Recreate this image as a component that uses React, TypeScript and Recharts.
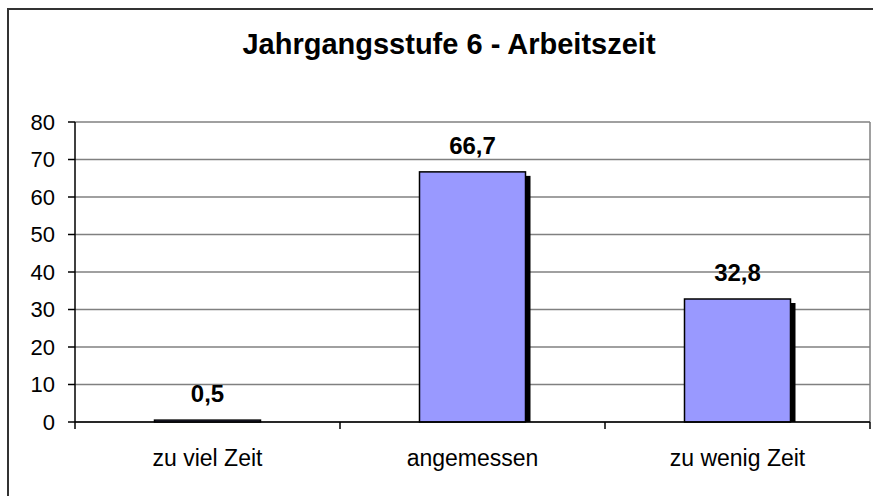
import { Bar, BarChart, CartesianGrid, LabelList, ReferenceLine, XAxis, YAxis } from 'recharts'

const categories = ['zu viel Zeit', 'angemessen', 'zu wenig Zeit']
const values = [0.5, 66.7, 32.8]
const yTicks = [0, 10, 20, 30, 40, 50, 60, 70, 80]
const edgeTicks = [0, 1, 2, 3]

// slot = position of each category on a 0..3 scale, used only for the boundary tick axis
const data = categories.map((name, i) => ({ name, value: values[i], slot: i + 0.5 }))

const font = '"Liberation Sans", Arial, sans-serif'

function ShadowBar(props: any) {
  const { x, y, width, height } = props
  const sh = Math.max(0, height - 4)
  return (
    <g>
      <rect x={x + 5} y={y + 4} width={width} height={sh} fill="#000" />
      <rect x={x} y={y} width={width} height={height} fill="#9999ff" stroke="#000" strokeWidth={1.5} />
    </g>
  )
}

export default function App() {
  return (
    <div
      style={{
        position: 'fixed',
        left: 0,
        top: 0,
        width: 873,
        height: 496,
        overflow: 'hidden',
        background: '#fff',
        fontFamily: font,
      }}
    >
      <div
        style={{
          position: 'absolute',
          left: 7,
          top: 8,
          width: 900,
          height: 520,
          borderTop: '2px solid #333',
          borderLeft: '2px solid #333',
        }}
      />
      <div
        style={{
          position: 'absolute',
          left: 0,
          top: 30,
          width: 898,
          textAlign: 'center',
          fontSize: 29,
          lineHeight: '29px',
          fontWeight: 'bold',
          color: '#000',
        }}
      >
        Jahrgangsstufe 6 - Arbeitszeit
      </div>
      <div style={{ position: 'absolute', left: 0, top: 0 }}>
        <BarChart
          width={873}
          height={496}
          data={data}
          margin={{ top: 122, right: 3, left: 15, bottom: 33 }}
          barCategoryGap="30%"
        >
          <CartesianGrid vertical={false} stroke="#808080" strokeWidth={1.5} />
          <XAxis
            xAxisId={0}
            type="number"
            dataKey="slot"
            domain={[0, 3]}
            ticks={edgeTicks}
            allowDataOverflow
            height={1}
            tick={{ fill: 'none', fontSize: 1 }}
            tickSize={7}
            axisLine={{ stroke: '#000', strokeWidth: 1.5 }}
            tickLine={{ stroke: '#000', strokeWidth: 1.5 }}
          />
          <XAxis
            xAxisId="cat"
            dataKey="name"
            height={40}
            axisLine={false}
            tickLine={false}
            tickSize={0}
            tickMargin={27}
            tick={{ fill: '#000', fontSize: 23, fontFamily: font }}
          />
          <YAxis
            domain={[0, 80]}
            ticks={yTicks}
            width={60}
            tickSize={7}
            tickMargin={13}
            axisLine={{ stroke: '#000', strokeWidth: 1.5 }}
            tickLine={{ stroke: '#000', strokeWidth: 1.5 }}
            tick={{ fill: '#000', fontSize: 22, fontFamily: font }}
          />
          <ReferenceLine xAxisId={0} x={3} stroke="#808080" strokeWidth={1.5} />
          <Bar xAxisId="cat" dataKey="value" shape={ShadowBar} isAnimationActive={false}>
            <LabelList
              dataKey="value"
              position="top"
              offset={18}
              formatter={(v: any) => String(v).replace('.', ',')}
              style={{ fill: '#000', fontSize: 24, fontWeight: 'bold', fontFamily: font }}
            />
          </Bar>
        </BarChart>
      </div>
    </div>
  )
}
